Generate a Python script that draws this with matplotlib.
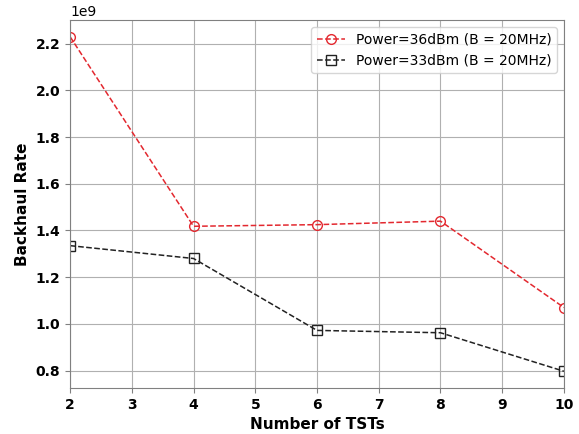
import matplotlib
matplotlib.use("Agg")
from matplotlib import pyplot as plt

tsts = [2, 4, 6, 8, 10]
rate_36dbm = [2.23e9, 1.418e9, 1.425e9, 1.44e9, 1.07e9]
rate_33dbm = [1.335e9, 1.28e9, 0.972e9, 0.962e9, 0.797e9]

fig, ax = plt.subplots(figsize=(5.79, 4.34), dpi=100)
fig.subplots_adjust(left=0.121, right=0.974, top=0.954, bottom=0.106)

ax.plot(tsts, rate_36dbm, '--o', color='#e3282f', mfc='none', markersize=7,
        linewidth=1.1, label='Power=36dBm (B = 20MHz)')
ax.plot(tsts, rate_33dbm, '--s', color='#222222', mfc='none', markersize=7,
        linewidth=1.1, label='Power=33dBm (B = 20MHz)')

ax.set_xlim(2, 10)
ax.set_xlabel('Number of TSTs', fontweight='bold', fontsize=11)
ax.set_ylabel('Backhaul Rate', fontweight='bold', fontsize=11)
for lbl in ax.get_xticklabels() + ax.get_yticklabels():
    lbl.set_fontweight('bold')
ax.tick_params(labelsize=10, color='#808080')
for spine in ax.spines.values():
    spine.set_color('#808080')
ax.grid(True, color='#b0b0b0', linewidth=0.8)
ax.legend(loc='upper right', fontsize=10)

fig.savefig('out.png')
